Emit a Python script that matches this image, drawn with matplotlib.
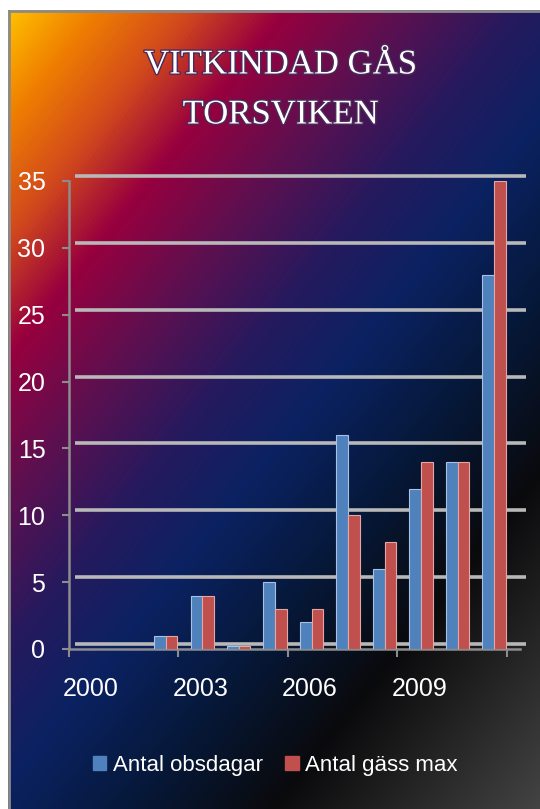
import numpy as np
import matplotlib
matplotlib.use("Agg")
import matplotlib.pyplot as plt
import matplotlib.patheffects as pe
from matplotlib.colors import LinearSegmentedColormap
from matplotlib.patches import Patch
import matplotlib.transforms as mtransforms

# data
years = [2000, 2001, 2002, 2003, 2004, 2005, 2006, 2007, 2008, 2009, 2010, 2011]
obsdagar = [np.nan, np.nan, 1, 4, 0.25, 5, 2, 16, 6, 12, 14, 28]
gass_max = [np.nan, np.nan, 1, 4, 0.25, 3, 3, 10, 8, 14, 14, 35]
label_years = [2000, 2003, 2006, 2009]
yticks = [0, 5, 10, 15, 20, 25, 30, 35]

W, H = 540, 809
fig = plt.figure(figsize=(W / 100, H / 100), dpi=100)
fig.patch.set_facecolor("white")

# gradient background (diagonal, orange -> crimson -> navy -> black/grey)
bg = fig.add_axes([8 / W, 0, 1 - 8 / W, 1 - 10 / H])
bg.set_axis_off()
xx, yy = np.meshgrid(np.arange(W - 8), np.arange(H - 10))
t = (xx + 0.8 * yy) / 1190.0
stops = [(0.0, "#ffc000"), (0.07, "#f08000"), (0.15, "#d24a1c"),
         (0.23, "#98003e"), (0.33, "#5c1050"), (0.43, "#251a5e"),
         (0.52, "#0b2262"), (0.64, "#061838"), (0.76, "#0a0a0c"),
         (1.0, "#484848")]
cmap = LinearSegmentedColormap.from_list("bg", stops)
bg.imshow(t, cmap=cmap, vmin=0, vmax=1, aspect="auto", interpolation="bilinear")
bg.axvline(0, color="#8a8a8a", lw=2)
bg.axhline(0, color="#8a8a8a", lw=2)

# main axes
left, right = 69 / W, 520 / W
bottom, top = (H - 649) / H, (H - 181) / H
ax = fig.add_axes([left, bottom, right - left, top - bottom])
ax.patch.set_alpha(0)
ax.set_xlim(-0.5, 11.86)
ax.set_ylim(0, 35)

# 3d-ish back wall gridlines
off = mtransforms.offset_copy(ax.transData, fig=fig, x=6 / 100, y=5 / 100, units="inches")
for v in yticks:
    ax.plot([-0.5, 11.86], [v, v], color="#b8b8b8", lw=2.6, transform=off,
            clip_on=False, solid_capstyle="butt", zorder=1)

x = np.arange(len(years)) + 0.15
w = 0.32
ax.bar(x - w / 2, obsdagar, w, color="#4f81bd", edgecolor="#a9c1e3", lw=0.8,
       zorder=3, label="Antal obsdagar")
ax.bar(x + w / 2, gass_max, w, color="#c0504d", edgecolor="#e3a8a6", lw=0.8,
       zorder=3, label="Antal gäss max")

for s in ["top", "right"]:
    ax.spines[s].set_visible(False)
for s in ["left", "bottom"]:
    ax.spines[s].set_color("#8c8c8c")
    ax.spines[s].set_linewidth(1.8)

ax.set_yticks(yticks)
ax.tick_params(axis="y", colors="#8c8c8c", length=5, width=1.5, pad=12,
               labelcolor="white", labelsize=18)
ax.set_xticks([-0.5, 2.5, 5.5, 8.5, 11.5])
ax.set_xticklabels([])
ax.tick_params(axis="x", colors="#8c8c8c", length=6, width=1.5)
ax.set_xticks([years.index(y) + 0.1 for y in label_years], minor=True)
ax.set_xticklabels([str(y) for y in label_years], minor=True)
ax.tick_params(axis="x", which="minor", length=0, pad=20, labelcolor="white",
               labelsize=18)
for lab in ax.get_yticklabels() + ax.get_xticklabels(minor=True):
    lab.set_fontfamily("Liberation Sans")

# title
title_fx = [pe.withStroke(linewidth=2, foreground="#4a2a5a")]
fig.text(0.52, 1 - 65 / H, "VITKINDAD GÅS", ha="center", va="center",
         color="white", fontsize=25, family="Liberation Serif",
         path_effects=title_fx)
fig.text(0.52, 1 - 115 / H, "TORSVIKEN", ha="center", va="center",
         color="white", fontsize=25, family="Liberation Serif",
         path_effects=title_fx)

handles = [Patch(color="#4f81bd", label="Antal obsdagar"),
           Patch(color="#c0504d", label="Antal gäss max")]
leg = fig.legend(handles=handles, loc="center", bbox_to_anchor=(0.51, 1 - 765 / H),
                 ncol=2, frameon=False, handlelength=0.6, handleheight=0.6,
                 handletextpad=0.3, columnspacing=1.0,
                 prop={"family": "Liberation Sans", "size": 16})
for txt in leg.get_texts():
    txt.set_color("white")

fig.savefig("out.png", dpi=100)
